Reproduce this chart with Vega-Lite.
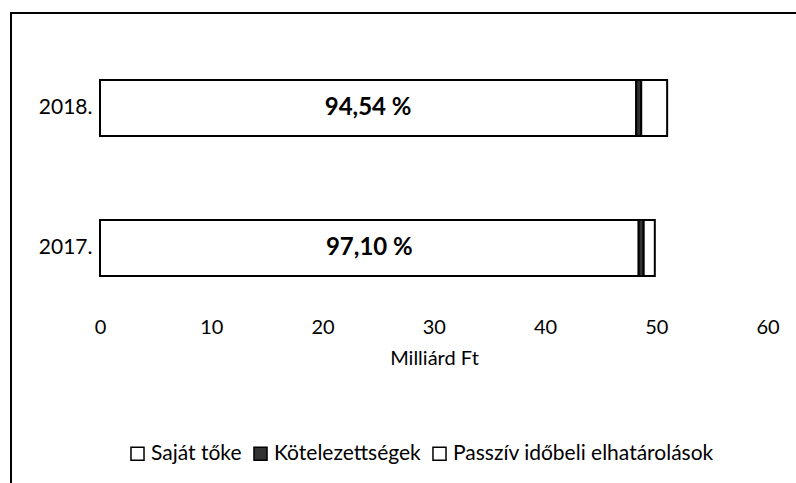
{
  "$schema": "https://vega.github.io/schema/vega-lite/v6.json",
  "width": 801,
  "height": 475,
  "autosize": {"type": "none"},
  "padding": {"left": 11, "top": 13, "right": 0, "bottom": 0},
  "background": "white",
  "config": {"view": {"stroke": "black", "strokeWidth": 2}, "font": "Lato"},
  "data": {"values": [
    {"year": "2018.", "component": "Saját tőke", "idx": 1, "value": 48.2, "pct": "94,54 %"},
    {"year": "2018.", "component": "Kötelezettségek", "idx": 2, "value": 0.45, "pct": ""},
    {"year": "2018.", "component": "Passzív időbeli elhatárolások", "idx": 3, "value": 2.33, "pct": ""},
    {"year": "2017.", "component": "Saját tőke", "idx": 1, "value": 48.42, "pct": "97,10 %"},
    {"year": "2017.", "component": "Kötelezettségek", "idx": 2, "value": 0.45, "pct": ""},
    {"year": "2017.", "component": "Passzív időbeli elhatárolások", "idx": 3, "value": 1.0, "pct": ""}
  ]},
  "encoding": {
    "y": {
      "field": "year", "type": "nominal", "sort": ["2018.", "2017."],
      "scale": {"type": "band", "paddingInner": 0.6, "paddingOuter": 0.9964, "align": 0.2401},
      "axis": {"orient": "left", "offset": -81, "ticks": false, "domain": false, "labelPadding": 0, "labelFontSize": 21, "labelColor": "black", "title": null}
    }
  },
  "layer": [
    {
      "mark": {"type": "bar", "stroke": "black", "strokeWidth": 2},
      "encoding": {
        "x": {
          "field": "value", "type": "quantitative", "aggregate": "sum", "stack": "zero",
          "scale": {"domain": [-8.0, 64], "nice": false, "zero": false},
          "axis": {
            "values": [0, 10, 20, 30, 40, 50, 60], "offset": -173, "ticks": false, "domain": false, "grid": false,
            "labelFontSize": 20, "labelPadding": 2, "labelColor": "black",
            "title": "Milliárd Ft", "titleFontSize": 20, "titleFontWeight": "normal", "titleColor": "black",
            "titleX": 423, "titleY": 43, "titleBaseline": "middle"
          }
        },
        "color": {
          "field": "component", "type": "nominal",
          "scale": {"domain": ["Saját tőke", "Kötelezettségek", "Passzív időbeli elhatárolások"], "range": ["white", "#333333", "white"]},
          "legend": {
            "title": null, "orient": "none", "direction": "horizontal", "legendX": 116, "legendY": 430,
            "symbolType": "square", "symbolSize": 170, "symbolStrokeColor": "black", "symbolStrokeWidth": 1.5,
            "labelFontSize": 21, "labelColor": "black", "labelLimit": 0, "columnPadding": 8, "labelOffset": 3
          }
        },
        "order": {"field": "idx", "type": "quantitative"}
      }
    },
    {
      "transform": [{"filter": "datum.idx == 1"}, {"calculate": "datum.value / 2", "as": "mid"}],
      "mark": {"type": "text", "fontWeight": "bold", "fontSize": 24, "color": "black", "baseline": "middle"},
      "encoding": {
        "x": {"field": "mid", "type": "quantitative"},
        "text": {"field": "pct"}
      }
    }
  ]
}
